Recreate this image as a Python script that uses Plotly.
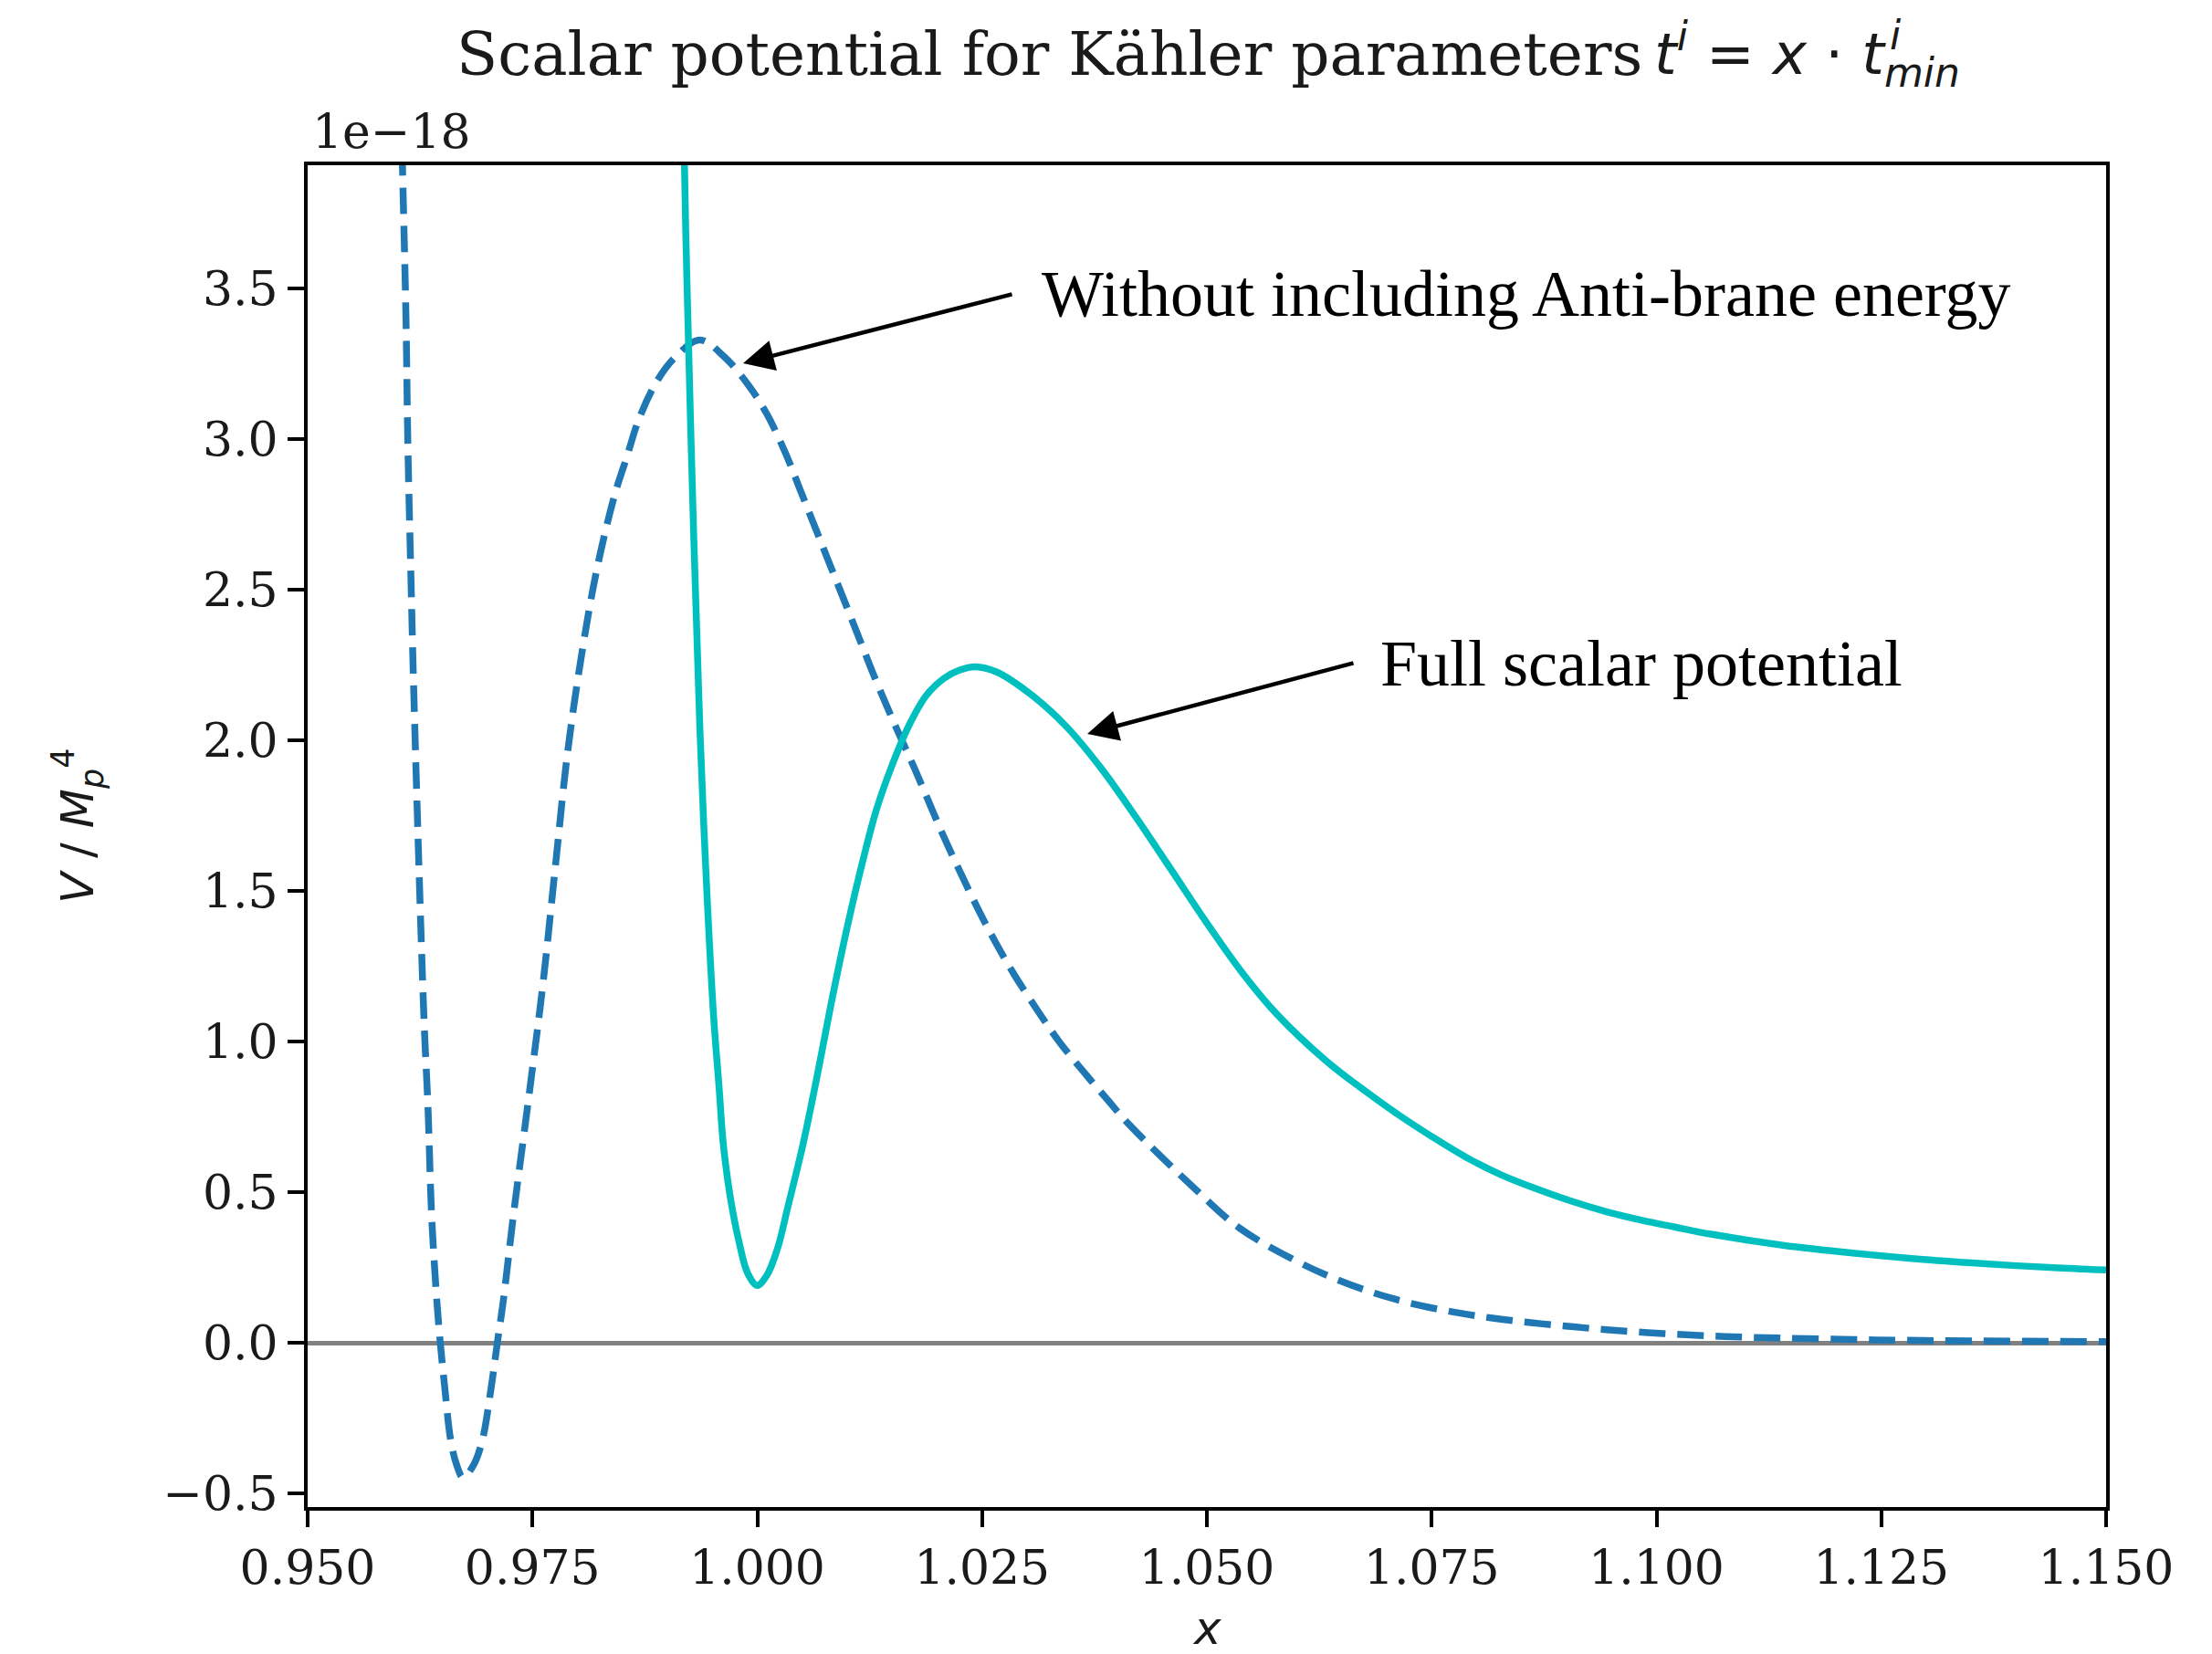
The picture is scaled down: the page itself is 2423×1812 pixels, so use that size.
import plotly.graph_objects as go

# ---------------- data (V / M_p^4 in units of 1e-18) ----------------
x_without = [0.96000, 0.96056, 0.96094, 0.96114, 0.96152, 0.96180, 0.96292, 0.96339,
             0.96378, 0.96437, 0.96475, 0.96526, 0.96592, 0.96658, 0.96728, 0.96844,
             0.96941, 0.97039, 0.97109, 0.97175, 0.97290, 0.97467, 0.97619, 0.97754,
             0.97890, 0.98042, 0.98211, 0.98414, 0.98550, 0.98685, 0.98888, 0.99091,
             0.99362, 0.99633, 0.99904, 1.00107, 1.00310, 1.00479, 1.00648, 1.00817,
             1.00987, 1.01155, 1.01291, 1.01519, 1.01752, 1.01881, 1.02075, 1.02270,
             1.02464, 1.02659, 1.02853, 1.03125, 1.03358, 1.03629, 1.03901, 1.04135,
             1.04855, 1.05359, 1.05942, 1.06408, 1.06836, 1.07263, 1.07730, 1.08157,
             1.08604, 1.09050, 1.09477, 1.09904, 1.10330, 1.10760, 1.11407, 1.12184,
             1.12960, 1.15000]
v_without = [4.600, 3.886, 3.394, 2.988, 2.500, 2.164, 1.089, 0.776,
             0.428, 0.138, 0.000, -0.152, -0.325, -0.406, -0.447, -0.406,
             -0.325, -0.152, 0.000, 0.138, 0.428, 0.834, 1.198, 1.580,
             1.959, 2.276, 2.561, 2.815, 2.942, 3.068, 3.195, 3.274,
             3.330, 3.274, 3.179, 3.084, 2.957, 2.831, 2.704, 2.577,
             2.450, 2.323, 2.220, 2.060, 1.905, 1.815, 1.680, 1.555,
             1.435, 1.325, 1.225, 1.100, 1.000, 0.900, 0.805, 0.725,
             0.515, 0.382, 0.280, 0.215, 0.168, 0.132, 0.103, 0.083,
             0.067, 0.054, 0.043, 0.034, 0.027, 0.021, 0.016, 0.011,
             0.008, 0.004]

x_full = [0.99150, 0.99191, 0.99220, 0.99294, 0.99362, 0.99429, 0.99514, 0.99575,
          0.99622, 0.99699, 0.99797, 0.99894, 0.99999, 1.00108, 1.00224, 1.00340,
          1.00510, 1.00670, 1.00820, 1.01000, 1.01190, 1.01325, 1.01492, 1.01687,
          1.01881, 1.02075, 1.02251, 1.02425, 1.02659, 1.03047, 1.03435, 1.03824,
          1.04212, 1.04601, 1.04990, 1.05378, 1.05767, 1.06331, 1.06720, 1.07108,
          1.07497, 1.07885, 1.08273, 1.08662, 1.09050, 1.09439, 1.09827, 1.10216,
          1.10604, 1.11407, 1.12184, 1.12962, 1.13738, 1.14515, 1.15000]
v_full = [5.000, 3.903, 3.500, 2.672, 2.038, 1.563, 1.087, 0.850,
          0.661, 0.486, 0.336, 0.231, 0.191, 0.225, 0.312, 0.451,
          0.661, 0.892, 1.124, 1.380, 1.620, 1.770, 1.912, 2.050,
          2.150, 2.206, 2.234, 2.245, 2.228, 2.152, 2.047, 1.908,
          1.745, 1.572, 1.398, 1.235, 1.095, 0.935, 0.845, 0.762,
          0.686, 0.616, 0.558, 0.512, 0.471, 0.436, 0.408, 0.384,
          0.361, 0.324, 0.298, 0.277, 0.261, 0.248, 0.242]

x_ticks = [0.950, 0.975, 1.000, 1.025, 1.050, 1.075, 1.100, 1.125, 1.150]
x_tick_labels = ["0.950", "0.975", "1.000", "1.025", "1.050", "1.075", "1.100", "1.125", "1.150"]
y_ticks = [-0.5, 0.0, 0.5, 1.0, 1.5, 2.0, 2.5, 3.0, 3.5]
y_tick_labels = ["\u22120.5", "0.0", "0.5", "1.0", "1.5", "2.0", "2.5", "3.0", "3.5"]

# ---------------- layout geometry (pixels) ----------------
W, H = 2423, 1812
PL, PR, PT, PB = 337, 2307, 181, 1651


def px(xp):
    return (xp - PL) / (PR - PL)


def py(yp):
    return (PB - yp) / (PB - PT)


SERIF = "DejaVu Serif"
SANS = "DejaVu Sans"
ANN = "Liberation Serif"
TXT = "#1a1a1a"

fig = go.Figure()

fig.add_trace(go.Scatter(
    x=x_without, y=v_without, mode="lines",
    line=dict(color="#1f77b4", width=7.5, dash="29px,13px", shape="spline", smoothing=1.0),
    showlegend=False, hoverinfo="skip"))
fig.add_trace(go.Scatter(
    x=x_full, y=v_full, mode="lines",
    line=dict(color="#00BFBF", width=7.5, shape="spline", smoothing=1.0),
    showlegend=False, hoverinfo="skip"))

axis_common = dict(showline=True, linecolor="black", linewidth=4, mirror=True,
                   ticks="outside", ticklen=18, tickwidth=4, tickcolor="black",
                   showgrid=False, tickfont=dict(family=SERIF, size=52, color=TXT))

fig.update_xaxes(range=[0.95, 1.15], tickvals=x_ticks, ticktext=x_tick_labels,
                 zeroline=False, **axis_common)
fig.update_yaxes(range=[-0.545, 3.91], tickvals=y_ticks, ticktext=y_tick_labels,
                 zeroline=True, zerolinecolor="#808080", zerolinewidth=5, **axis_common)

annotations = [
    # title
    dict(text="Scalar potential for Kähler parameters", x=px(498), y=py(60),
         xanchor="left", yanchor="middle", font=dict(family=SERIF, size=66, color=TXT)),
    dict(text="<i>t</i><sup><i>i</i></sup> = <i>x</i> · <i>t</i><sub><i>min</i></sub>",
         x=px(1810), y=py(60), xanchor="left", yanchor="middle",
         font=dict(family=SANS, size=63, color=TXT)),
    dict(text="<i>i</i>", x=px(2068), y=py(38), xanchor="left", yanchor="middle",
         font=dict(family=SANS, size=44, color=TXT)),
    # offset text
    dict(text="1e\u221218", x=px(340), y=py(144), xanchor="left", yanchor="middle",
         font=dict(family=SERIF, size=52, color=TXT)),
    # axis labels
    dict(text="<i>V</i> / <i>M</i><sub><i>p</i></sub><sup>4</sup>", x=px(85), y=py(905),
         xanchor="center", yanchor="middle", textangle=-90,
         font=dict(family=SANS, size=50, color=TXT)),
    dict(text="<i>x</i>", x=px(1322), y=py(1784), xanchor="center", yanchor="middle",
         font=dict(family=SANS, size=50, color=TXT)),
    # callout texts
    dict(text="Without including Anti-brane energy", x=px(1139), y=py(322),
         xanchor="left", yanchor="middle", font=dict(family=ANN, size=72, color="black")),
    dict(text="Full scalar potential", x=px(1510), y=py(727),
         xanchor="left", yanchor="middle", font=dict(family=ANN, size=72, color="black")),
    # arrows
    dict(text="", x=px(814), y=py(398), ax=1110 - 814, ay=322 - 398, axref="pixel", ayref="pixel",
         showarrow=True, arrowhead=2, arrowsize=1.5, arrowwidth=4.5, arrowcolor="black", standoff=0),
    dict(text="", x=px(1191), y=py(804), ax=1484 - 1191, ay=726 - 804, axref="pixel", ayref="pixel",
         showarrow=True, arrowhead=2, arrowsize=1.5, arrowwidth=4.5, arrowcolor="black", standoff=0),
]
for a in annotations:
    a.setdefault("xref", "paper")
    a.setdefault("yref", "paper")
    a.setdefault("showarrow", False)

fig.update_layout(
    width=W, height=H,
    margin=dict(l=PL, r=W - PR, t=PT, b=H - PB, pad=0),
    paper_bgcolor="white", plot_bgcolor="white",
    annotations=annotations, showlegend=False,
)

fig.write_html("out.html")
